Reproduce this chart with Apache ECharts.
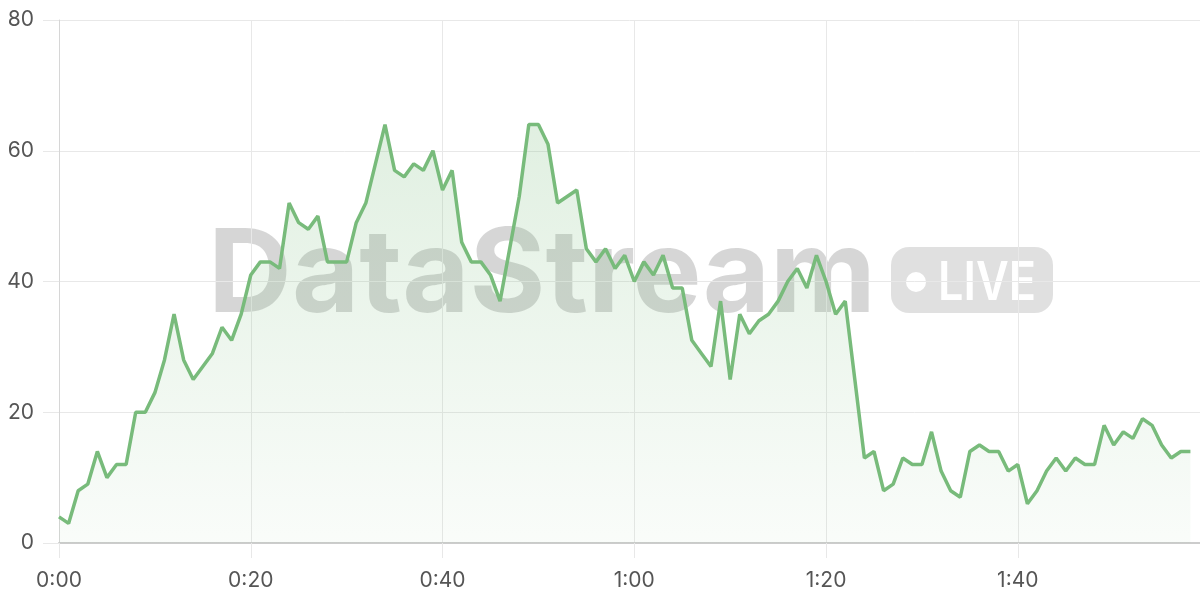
<!DOCTYPE html>
<html>
<head>
<meta charset="utf-8">
<script src="https://cdn.jsdelivr.net/npm/echarts@6/dist/echarts.min.js"></script>
<style>
html,body{margin:0;padding:0;background:#fff;}
#chart{width:1200px;height:600px;}
</style>
</head>
<body>
<div id="chart"></div>
<script>
// Values sampled once per second, starting at 0:00
const values = [
  4, 3, 8, 9, 14, 10, 12, 12, 20, 20,
  23, 28, 35, 28, 25, 27, 29, 33, 31, 35,
  41, 43, 43, 42, 52, 49, 48, 50, 43, 43,
  43, 49, 52, 58, 64, 57, 56, 58, 57, 60,
  54, 57, 46, 43, 43, 41, 37, 45, 53, 64,
  64, 61, 52, 53, 54, 45, 43, 45, 42, 44,
  40, 43, 41, 44, 39, 39, 31, 29, 27, 37,
  25, 35, 32, 34, 35, 37, 40, 42, 39, 44,
  40, 35, 37, 25, 13, 14, 8, 9, 13, 12,
  12, 17, 11, 8, 7, 14, 15, 14, 14, 11,
  12, 6, 8, 11, 13, 11, 13, 12, 12, 18,
  15, 17, 16, 19, 18, 15, 13, 14, 14
];
const xTicks = [0, 20, 40, 60, 80, 100];
const yTicks = [0, 20, 40, 60, 80];
const watermarkText = 'DataStream';
const badgeText = 'LIVE';

function fmtTime(s) {
  const m = Math.floor(s / 60);
  const sec = s % 60;
  return m + ':' + (sec < 10 ? '0' : '') + sec;
}

const seriesData = values.map((v, i) => [i, v]);

const chart = echarts.init(document.getElementById('chart'), null, {renderer: 'canvas'});
chart.setOption({
  animation: false,
  backgroundColor: '#fff',
  grid: {left: 59, right: 0, top: 20, bottom: 57},
  xAxis: {
    type: 'value',
    min: 0,
    max: 119,
    interval: 20,
    axisLine: {show: true, lineStyle: {color: '#cccccc', width: 2}},
    axisTick: {show: true, length: 15, lineStyle: {color: '#e8e8e8', width: 1}},
    splitLine: {show: true, lineStyle: {color: '#e8e8e8', width: 1}},
    axisLabel: {
      color: '#555',
      fontFamily: 'Inter',
      fontSize: 21,
      margin: 27,
      showMaxLabel: false,
      formatter: v => xTicks.indexOf(v) >= 0 ? fmtTime(v) : ''
    }
  },
  yAxis: {
    type: 'value',
    min: 0,
    max: 80,
    interval: 20,
    axisLine: {show: true, lineStyle: {color: '#d6d6d6', width: 1}},
    axisTick: {show: true, length: 16, lineStyle: {color: '#e8e8e8', width: 1}},
    splitLine: {show: true, lineStyle: {color: '#e8e8e8', width: 1}},
    axisLabel: {
      color: '#555',
      fontFamily: 'Inter',
      fontSize: 21,
      margin: 25,
      formatter: v => yTicks.indexOf(v) >= 0 ? String(v) : ''
    }
  },
  graphic: [
    {
      type: 'text',
      z: -10,
      x: 542,
      y: 277,
      style: {
        text: watermarkText,
        fill: 'rgba(0,0,0,0.16)',
        font: 'bold 116px Inter',
        textAlign: 'center',
        textVerticalAlign: 'middle'
      }
    },
    {
      type: 'rect',
      z: -10,
      shape: {x: 891, y: 247, width: 162, height: 66, r: 18},
      style: {fill: 'rgba(0,0,0,0.12)'}
    },
    {
      type: 'circle',
      z: -9,
      shape: {cx: 916, cy: 282, r: 10},
      style: {fill: '#fff'}
    },
    {
      type: 'text',
      z: -9,
      x: 938,
      y: 284,
      scaleX: 0.85,
      style: {
        text: badgeText,
        fill: '#fff',
        font: '600 53px Inter',
        textAlign: 'left',
        textVerticalAlign: 'middle'
      }
    }
  ],
  series: [{
    type: 'line',
    data: seriesData,
    showSymbol: false,
    symbol: 'none',
    lineStyle: {color: '#78bb7b', width: 3.5},
    itemStyle: {color: '#78bb7b'},
    areaStyle: {
      color: new echarts.graphic.LinearGradient(0, 0, 0, 1, [
        {offset: 0, color: 'rgba(120,187,123,0.32)'},
        {offset: 1, color: 'rgba(120,187,123,0.06)'}
      ])
    }
  }]
});
</script>
</body>
</html>
